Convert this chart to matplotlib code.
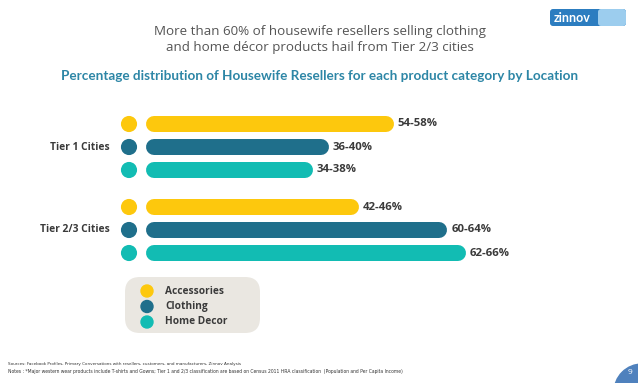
import matplotlib
matplotlib.use('Agg')
import matplotlib.pyplot as plt
from matplotlib.patches import FancyBboxPatch, Circle

# ---- data ----
groups = ['Tier 1 Cities', 'Tier 2/3 Cities']
categories = ['Accessories', 'Clothing', 'Home Decor']
colors = ['#FDC80D', '#1F6F8B', '#12BCB3']

# bar lengths in percent (as drawn) and the printed ranges
tier1_values = [51.1, 37.7, 34.4]
tier2_values = [43.9, 62.1, 66.0]
tier1_labels = ['54-58%', '36-40%', '34-38%']
tier2_labels = ['42-46%', '60-64%', '62-66%']

title_lines = ['More than 60% of housewife resellers selling clothing',
               'and home décor products hail from Tier 2/3 cities']
subtitle = 'Percentage distribution of Housewife Resellers for each product category by Location'
source_note = 'Sources: Facebook Profiles, Primary Conversations with resellers, customers, and manufacturers, Zinnov Analysis'
notes = ('Notes : *Major western wear products include T-shirts and Gowns; Tier 1 and 2/3 classification '
         'are based on Census 2011 HRA classification  (Population and Per Capita Income)')

# ---- layout (pixels) ----
W, H = 638, 383
x0 = 146            # where bars start
px_per_pct = 4.85
group_top = [124, 207]
row_gap = 23
bar_px = 16

plt.rcParams['font.family'] = ['Open Sans', 'DejaVu Sans']

fig = plt.figure(figsize=(W / 100, H / 100), dpi=100)
fig.patch.set_facecolor('white')

# canvas axes in pixel units for decoration / text
cv = fig.add_axes([0, 0, 1, 1])
cv.set_xlim(0, W)
cv.set_ylim(H, 0)
cv.axis('off')

# bar axes: x in percent, y in pixels
ax = fig.add_axes([0, 0, 1, 1], facecolor='none')
ax.set_xlim(-x0 / px_per_pct, (W - x0) / px_per_pct)
ax.set_ylim(H, 0)
ax.axis('off')

lw_pt = bar_px * 72 / 100
cap = (bar_px / 2) / px_per_pct
dot_x = -17 / px_per_pct

for g, (name, vals, labs) in enumerate(zip(groups, [tier1_values, tier2_values],
                                           [tier1_labels, tier2_labels])):
    for i, (v, lab) in enumerate(zip(vals, labs)):
        y = group_top[g] + i * row_gap
        ax.plot([cap, v - cap], [y, y], color=colors[i], lw=lw_pt,
                solid_capstyle='round')
        ax.scatter([dot_x], [y], s=135, color=colors[i], edgecolors='none')
        ax.text(v + 4 / px_per_pct, y, lab, fontsize=8.2, fontweight='bold',
                color='#3a3a3a', va='center', ha='left')
    ax.text(dot_x - 19 / px_per_pct, group_top[g] + row_gap, name, fontsize=7.4,
            fontweight='bold', color='#3a3a3a', va='center', ha='right')

# titles
cv.text(320, 31, title_lines[0], fontsize=9.6, color='#555555', ha='center', va='center')
cv.text(320, 47, title_lines[1], fontsize=9.6, color='#555555', ha='center', va='center')
cv.text(320, 76, subtitle, fontsize=9.7, fontweight='bold', color='#2D86A6',
        ha='center', va='center', family=['Lato', 'DejaVu Sans'])

# legend box
cv.add_patch(FancyBboxPatch((125, 277), 135, 56, boxstyle='round,pad=0,rounding_size=15',
                            facecolor='#EAE7E1', edgecolor='none'))
for i, cat in enumerate(categories):
    y = 291 + i * 15.5
    cv.add_patch(Circle((147, y), 6, color=colors[i]))
    cv.text(165, y, cat, fontsize=7.3, fontweight='bold', color='#3a3a3a',
            va='center', ha='left')

# zinnov logo
cv.add_patch(FancyBboxPatch((550, 9), 76, 17, boxstyle='round,pad=0,rounding_size=3',
                            facecolor='#2C7DC0', edgecolor='none'))
cv.add_patch(FancyBboxPatch((598, 9), 28, 17, boxstyle='round,pad=0,rounding_size=3',
                            facecolor='#9CCDEE', edgecolor='none'))
cv.text(572, 18, 'zinnov', fontsize=9, fontweight='bold', color='white',
        ha='center', va='center', family=['Lato', 'DejaVu Sans'])

# footer
cv.text(8, 364, source_note, fontsize=3.0, color='#333333', ha='left', va='center',
        family=['Liberation Sans Narrow', 'DejaVu Sans'])
cv.text(8, 372, notes, fontsize=3.25, color='#333333', ha='left', va='center',
        family=['Liberation Sans Narrow', 'DejaVu Sans'])

# page number
cv.add_patch(Circle((642, 392), 28, color='#4F81BD', clip_on=True))
cv.text(630, 373, '9', fontsize=6, color='white', ha='center', va='center')

fig.savefig('out.png', dpi=100)
